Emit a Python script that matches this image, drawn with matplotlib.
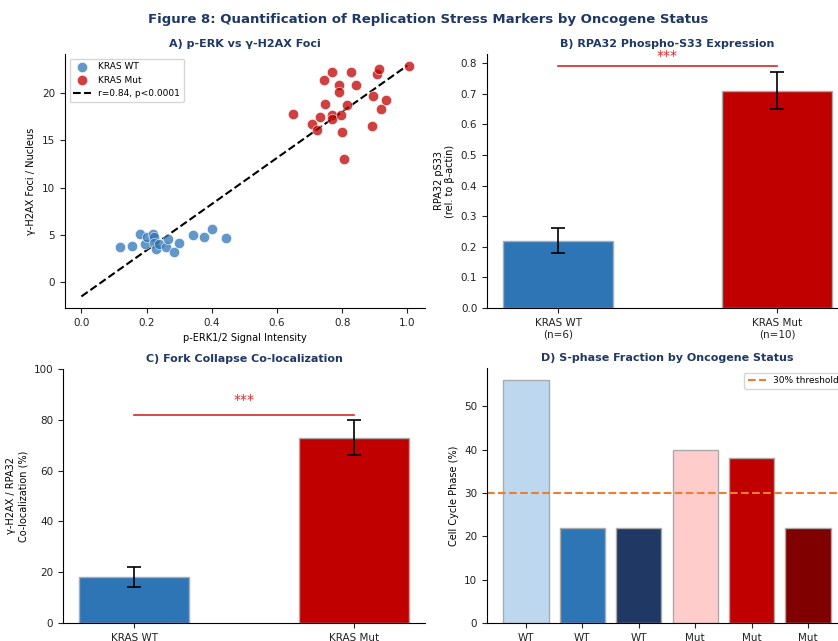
import matplotlib.pyplot as plt
import numpy as np

# colours
navy = '#1F3864'
wt_blue = '#2E75B6'
mut_red = '#C00000'
sig_red = '#d62728'

# A) scatter data
wt_perk = [0.118, 0.155, 0.179, 0.194, 0.201, 0.220, 0.222, 0.224, 0.230, 0.237,
           0.259, 0.266, 0.285, 0.299, 0.342, 0.377, 0.400, 0.444]
wt_h2ax = [3.69, 3.86, 5.10, 4.04, 4.82, 5.10, 4.82, 4.12, 3.54, 4.00,
           3.69, 4.61, 3.16, 4.15, 5.00, 4.82, 5.64, 4.68]
mut_perk = [0.648, 0.709, 0.722, 0.731, 0.744, 0.748, 0.769, 0.769, 0.769, 0.789,
            0.791, 0.798, 0.801, 0.806, 0.815, 0.827, 0.844, 0.893, 0.894, 0.907,
            0.912, 0.920, 0.936, 1.004]
mut_h2ax = [17.77, 16.70, 16.06, 17.50, 21.35, 18.86, 22.27, 17.70, 17.23, 20.85,
            20.07, 17.70, 15.85, 12.98, 18.69, 22.20, 20.88, 16.46, 19.71, 22.02,
            22.55, 18.33, 19.29, 22.84]
fit_slope = 24.4
fit_intercept = -1.5
fit_label = 'r=0.84, p<0.0001'

# B) RPA32 pS33
b_labels = ['KRAS WT\n(n=6)', 'KRAS Mut\n(n=10)']
b_means = [0.22, 0.71]
b_err = [0.04, 0.06]
b_sig_y = 0.79

# C) fork collapse
c_labels = ['KRAS WT', 'KRAS Mut']
c_means = [18, 73]
c_err = [4, 7]
c_sig_y = 82

# D) S-phase fraction
d_labels = ['WT', 'WT', 'WT', 'Mut', 'Mut', 'Mut']
d_values = [56, 22, 22, 40, 38, 22]
d_colors = ['#BDD7EE', '#2E75B6', '#1F3864', '#FFCCCC', '#C00000', '#800000']
d_threshold = 30

W, H = 838, 641
fig = plt.figure(figsize=(W / 100, H / 100), dpi=100)


def px_axes(left, top, right, bottom):
    # axes from pixel box (origin top-left)
    return fig.add_axes([left / W, 1 - bottom / H, (right - left) / W, (bottom - top) / H])


def style(ax):
    ax.spines['top'].set_visible(False)
    ax.spines['right'].set_visible(False)
    ax.tick_params(labelsize=7.5, colors='#222222')


axA = px_axes(65, 54, 425, 308)
axB = px_axes(487, 54, 848, 308)
axC = px_axes(63, 369, 425, 623)
axD = px_axes(487, 368, 847, 623)

# --- A
axA.scatter(wt_perk, wt_h2ax, s=55, color=wt_blue, alpha=0.75, edgecolors='white',
            linewidths=0.5, label='KRAS WT', zorder=3)
axA.scatter(mut_perk, mut_h2ax, s=55, color=mut_red, alpha=0.75, edgecolors='white',
            linewidths=0.5, label='KRAS Mut', zorder=3)
xfit = np.linspace(0, 1, 50)
axA.plot(xfit, fit_intercept + fit_slope * xfit, 'k--', lw=1.5, label=fit_label)
axA.set_xlabel('p-ERK1/2 Signal Intensity', fontsize=7)
axA.set_ylabel('γ-H2AX Foci / Nucleus', fontsize=7)
axA.set_title('A) p-ERK vs γ-H2AX Foci', fontsize=8, fontweight='bold', color=navy, pad=5)
axA.legend(loc='upper left', fontsize=6.5)
style(axA)

# --- B
xb = np.arange(len(b_means))
axB.bar(xb, b_means, width=0.5, color=[wt_blue, mut_red], edgecolor='#aaaaaa', linewidth=1,
        yerr=b_err, capsize=5, error_kw={'elinewidth': 1.2, 'capthick': 1.2})
axB.plot([0, 1], [b_sig_y, b_sig_y], color=sig_red, lw=1.2)
axB.text(0.5, b_sig_y + 0.01, '***', ha='center', va='bottom', color=sig_red, fontsize=10)
axB.set_xticks(xb)
axB.set_xticklabels(b_labels)
axB.set_ylabel('RPA32 pS33\n(rel. to β-actin)', fontsize=7)
axB.set_title('B) RPA32 Phospho-S33 Expression', fontsize=8, fontweight='bold', color=navy, pad=5)
style(axB)

# --- C
xc = np.arange(len(c_means))
axC.bar(xc, c_means, width=0.5, color=[wt_blue, mut_red], edgecolor='#aaaaaa', linewidth=1,
        yerr=c_err, capsize=5, error_kw={'elinewidth': 1.2, 'capthick': 1.2})
axC.plot([0, 1], [c_sig_y, c_sig_y], color=sig_red, lw=1.2)
axC.text(0.5, c_sig_y + 3, '***', ha='center', va='bottom', color=sig_red, fontsize=10)
axC.set_ylim(0, 100)
axC.set_xticks(xc)
axC.set_xticklabels(c_labels)
axC.set_ylabel('γ-H2AX / RPA32\nCo-localization (%)', fontsize=7)
axC.set_title('C) Fork Collapse Co-localization', fontsize=8, fontweight='bold', color=navy, pad=5)
style(axC)

# --- D
xd = np.arange(len(d_values))
axD.bar(xd, d_values, width=0.8, color=d_colors, edgecolor='#aaaaaa', linewidth=1)
axD.axhline(d_threshold, color='#ED7D31', ls='--', lw=1.5, label='30% threshold')
axD.set_xticks(xd)
axD.set_xticklabels(d_labels)
axD.set_ylabel('Cell Cycle Phase (%)', fontsize=7)
axD.set_title('D) S-phase Fraction by Oncogene Status', fontsize=8, fontweight='bold', color=navy, pad=5)
axD.legend(loc='upper right', fontsize=6.5)
style(axD)

fig.text(428 / W, 1 - 19 / H, 'Figure 8: Quantification of Replication Stress Markers by Oncogene Status',
         ha='center', va='center', fontsize=9.5, fontweight='bold', color=navy)

fig.savefig('out.png', dpi=100)
